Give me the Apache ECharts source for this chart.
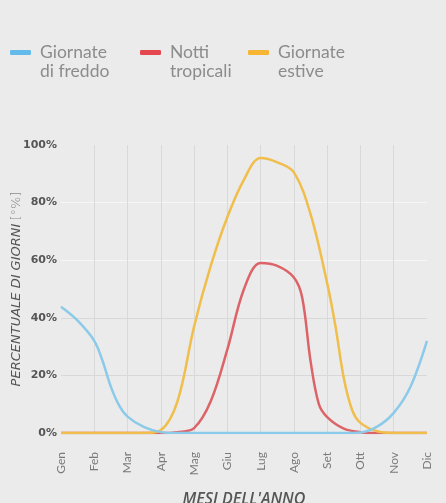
<!DOCTYPE html>
<html>
<head>
<meta charset="utf-8">
<style>
  html, body { margin: 0; padding: 0; background: #ebebeb; }
  #chart { width: 446px; height: 503px; }
</style>
<script src="https://cdn.jsdelivr.net/npm/echarts@6/dist/echarts.min.js"></script>
</head>
<body>
<div id="chart"></div>
<script>
// Month labels along the x axis (position 0 = Gen ... 11 = Dic)
const months = ['Gen', 'Feb', 'Mar', 'Apr', 'Mag', 'Giu', 'Lug', 'Ago', 'Set', 'Ott', 'Nov', 'Dic'];
const yTicks = [0, 20, 40, 60, 80, 100];

// Series names (two-line legend labels)
const seriesNames = ['Giornate\ndi freddo', 'Notti\ntropicali', 'Giornate\nestive'];

// [month position, percentage of days]
const coldDays = [
  [0, 43.8], [0.5, 39], [1, 32], [1.25, 25], [1.5, 16], [1.75, 9.5], [2, 5.7], [2.5, 2.0],
  [3, 0.3], [3.5, 0], [4, 0], [5, 0], [6, 0], [7, 0], [8, 0], [8.5, 0],
  [9, 0.2], [9.5, 2.2], [10, 7], [10.5, 16], [11, 32]
];
const tropicalNights = [
  [0, 0], [1, 0], [2, 0], [3, 0], [3.5, 0.3], [4, 1.7], [4.5, 11], [5, 29], [5.5, 50],
  [6, 59], [6.5, 58], [7, 54], [7.25, 47], [7.5, 25], [7.75, 10], [8, 5.5], [8.5, 1.5],
  [9, 0.3], [9.5, 0], [10, 0], [11, 0]
];
const summerDays = [
  [0, 0], [1, 0], [2, 0], [2.5, 0], [3, 1], [3.5, 11], [4, 37], [4.5, 58], [5, 75],
  [5.5, 88], [6, 95.5], [6.5, 94], [7, 90.5], [7.5, 76], [8, 52], [8.25, 37], [8.5, 19],
  [8.75, 8], [9, 3.5], [9.5, 0.6], [10, 0], [11, 0]
];

const lineColors = ['#8ccaea', '#dc6468', '#f0be4c'];
const legendColors = ['#62bbea', '#e5474f', '#f6b532'];
const legendLefts = [10, 140, 248];

const chart = echarts.init(document.getElementById('chart'), null, { renderer: 'canvas' });

function lineSeries(name, data, idx, z) {
  return {
    name: name,
    type: 'line',
    data: data,
    smooth: 0.35,
    showSymbol: false,
    symbol: 'none',
    z: z,
    lineStyle: { color: lineColors[idx], width: 2.5 },
    itemStyle: { color: legendColors[idx] }
  };
}

// One legend block per series; a leading blank line puts the first text line level with the icon
const legends = seriesNames.map(function (name, i) {
  return {
    left: legendLefts[i],
    top: 24,
    padding: 0,
    icon: 'roundRect',
    itemWidth: 21,
    itemHeight: 5,
    data: [name],
    formatter: function (n) { return '\n' + n; },
    textStyle: {
      color: '#8c8c8c',
      fontSize: 17.5,
      fontFamily: 'Lato',
      lineHeight: 19,
      padding: [0, 0, 0, 4]
    }
  };
});

chart.setOption({
  backgroundColor: '#ebebeb',
  animation: false,
  textStyle: { fontFamily: 'Lato' },
  legend: legends,
  grid: { left: 61, right: 19, top: 145, bottom: 70, containLabel: false, outerBoundsMode: 'none' },
  xAxis: {
    type: 'value',
    min: 0,
    max: 11,
    interval: 1,
    name: "MESI DELL'ANNO",
    nameLocation: 'middle',
    nameGap: 58,
    nameMoveOverlap: false,
    nameTextStyle: { fontStyle: 'italic', fontWeight: 600, fontSize: 16, color: '#555', fontFamily: 'Open Sans' },
    axisLine: { show: false },
    axisTick: { show: false },
    axisLabel: {
      rotate: 90,
      margin: 19,
      color: '#7a7a7a',
      fontSize: 12,
      fontFamily: 'Lato',
      formatter: function (v) { return months[Math.round(v)] || ''; }
    },
    splitLine: {
      show: true,
      lineStyle: {
        color: ['transparent', '#d9d9d9', '#d9d9d9', '#d9d9d9', '#d9d9d9', '#d9d9d9',
                '#d9d9d9', '#d9d9d9', '#d9d9d9', '#d9d9d9', '#d9d9d9', 'transparent'],
        width: 1
      }
    }
  },
  yAxis: {
    type: 'value',
    min: yTicks[0],
    max: yTicks[yTicks.length - 1],
    interval: 20,
    name: '{a|PERCENTUALE DI GIORNI} {b|[°%]}',
    nameLocation: 'middle',
    nameGap: 38,
    nameMoveOverlap: false,
    nameTextStyle: {
      color: '#555',
      rich: {
        a: { fontStyle: 'italic', fontSize: 13, color: '#555', fontFamily: 'DejaVu Sans' },
        b: { fontSize: 13, color: '#8a8a8a', fontFamily: 'DejaVu Sans', fontWeight: 300 }
      }
    },
    axisLine: { show: false },
    axisTick: { show: false },
    axisLabel: {
      margin: 4,
      color: '#555',
      fontSize: 11,
      fontWeight: 'bold',
      fontFamily: 'DejaVu Sans',
      formatter: function (v) { return v + '%'; }
    },
    splitLine: {
      show: true,
      lineStyle: {
        color: ['transparent', '#d8d8d8', '#d8d8d8', '#f6f6f6', '#f6f6f6', 'transparent'],
        width: 1
      }
    }
  },
  series: [
    lineSeries(seriesNames[0], coldDays, 0, 4),
    lineSeries(seriesNames[1], tropicalNights, 1, 2),
    lineSeries(seriesNames[2], summerDays, 2, 3)
  ]
});
</script>
</body>
</html>
